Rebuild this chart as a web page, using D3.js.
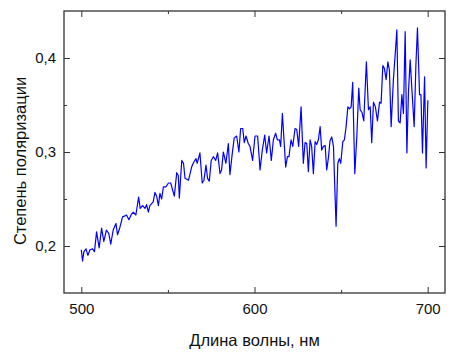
<!DOCTYPE html>
<html>
<head>
<meta charset="utf-8">
<script src="https://cdn.jsdelivr.net/npm/d3@7"></script>
<style>
  body { margin: 0; background: #fff; }
  svg text { font-family: "Liberation Sans", Arial, sans-serif; fill: #111; }
</style>
</head>
<body>
<div id="chart"></div>
<script>
// длина волны, нм
const wavelength = [
  500, 500.7, 501.5, 502.7, 503.8, 505.0, 506.5, 507.6, 508.8, 510.3,
  511.7, 513.0, 514.5, 515.9, 517.0, 518.4, 520.0, 520.9, 522.3, 523.8,
  525.2, 526.1, 527.5, 528.7, 530.0, 531.5, 533.1, 534.0, 535.4, 536.8,
  537.7, 538.7, 539.6, 541.5, 542.5, 543.5, 544.5, 545.4, 546.4, 547.4,
  548.9, 550.3, 551.6, 553.7, 555.1, 556.0, 556.6, 558.0, 559.0, 559.9,
  561.9, 563.7, 564.6, 566.2, 566.9, 568.5, 569.8, 570.8, 572.0, 572.9,
  573.9, 575.0, 576.2, 577.6, 578.7, 580.1, 581.0, 582.0, 583.5, 584.9,
  585.8, 587.2, 588.3, 589.7, 591.0, 592.0, 593.2, 594.1, 595.1, 596.4,
  597.4, 598.9, 600.3, 601.8, 603.2, 604.5, 605.9, 607.0, 608.4, 609.7,
  610.9, 612.2, 613.2, 614.4, 615.1, 616.1, 617.1, 618.0, 619.0, 619.9,
  621.1, 622.1, 623.4, 624.4, 625.5, 626.9, 628.2, 629.2, 630.2, 631.1,
  632.1, 633.0, 634.0, 635.0, 635.9, 636.9, 637.9, 638.8, 639.8, 640.8,
  641.7, 642.7, 643.6, 644.6, 645.6, 647.1, 648.1, 649.0, 649.8, 651.0,
  651.9, 652.9, 653.9, 654.8, 655.8, 656.7, 657.9, 659.1, 660.2, 661.0,
  662.1, 663.1, 664.6, 665.8, 666.8, 667.7, 668.7, 669.8, 671.0, 672.2,
  673.1, 674.1, 675.0, 676.0, 677.0, 677.9, 678.9, 680.2, 681.2, 682.2,
  683.1, 684.1, 685.1, 686.0, 687.0, 688.0, 688.9, 689.9, 690.8, 692.2,
  693.2, 694.1, 695.3, 696.1, 697.0, 698.2, 699.1, 700.1
];

// степень поляризации
const polarization = [
  0.196, 0.184, 0.194, 0.197, 0.190, 0.196, 0.197, 0.194, 0.215, 0.198,
  0.219, 0.205, 0.217, 0.213, 0.202, 0.217, 0.224, 0.212, 0.220, 0.231,
  0.232, 0.233, 0.228, 0.233, 0.236, 0.233, 0.252, 0.240, 0.243, 0.240,
  0.244, 0.236, 0.243, 0.247, 0.257, 0.253, 0.243, 0.256, 0.250, 0.263,
  0.263, 0.267, 0.267, 0.253, 0.278, 0.275, 0.251, 0.291, 0.288, 0.272,
  0.270, 0.284, 0.288, 0.293, 0.288, 0.299, 0.267, 0.270, 0.286, 0.272,
  0.269, 0.291, 0.295, 0.291, 0.299, 0.277, 0.281, 0.300, 0.288, 0.309,
  0.276, 0.299, 0.315, 0.317, 0.300, 0.325, 0.325, 0.310, 0.317, 0.309,
  0.306, 0.291, 0.317, 0.317, 0.281, 0.302, 0.318, 0.299, 0.317, 0.291,
  0.313, 0.320, 0.313, 0.313, 0.306, 0.341, 0.311, 0.284, 0.295, 0.295,
  0.313, 0.306, 0.325, 0.324, 0.306, 0.348, 0.288, 0.310, 0.309, 0.279,
  0.313, 0.306, 0.277, 0.311, 0.308, 0.313, 0.327, 0.302, 0.306, 0.307,
  0.281, 0.294, 0.312, 0.316, 0.306, 0.221, 0.288, 0.293, 0.288, 0.311,
  0.313, 0.327, 0.348, 0.346, 0.348, 0.374, 0.277, 0.317, 0.368, 0.345,
  0.342, 0.333, 0.396, 0.345, 0.348, 0.310, 0.353, 0.348, 0.333, 0.353,
  0.352, 0.392, 0.389, 0.377, 0.396, 0.387, 0.327, 0.377, 0.403, 0.430,
  0.333, 0.331, 0.361, 0.341, 0.428, 0.299, 0.364, 0.398, 0.369, 0.327,
  0.393, 0.432, 0.361, 0.361, 0.299, 0.380, 0.283, 0.355
];

const xMajor = [500, 600, 700];
const xMinor = [550, 650];
const yMajor = [0.2, 0.3, 0.4];
const yMinor = [0.25, 0.35];

const W = 461, H = 353;
const frame = { left: 64, right: 445, top: 11, bottom: 293 };

const svg = d3.select("#chart")
    .append("svg")
    .attr("width", W)
    .attr("height", H);

const x = d3.scaleLinear()
    .domain([490, 710])
    .range([frame.left, frame.right]);

const y = d3.scaleLinear()
    .domain([0.15, 0.45])
    .range([frame.bottom, frame.top]);

const fmt = d => d3.format(".1f")(d).replace(".", ",");
const axisColor = "#333";

// оси снизу и слева с подписями
function styleAxis(g) {
    g.select(".domain").remove();
    g.selectAll("line").attr("stroke", axisColor).attr("stroke-width", 1);
}

svg.append("g")
    .attr("transform", `translate(0,${frame.bottom})`)
    .call(d3.axisBottom(x).tickValues(xMajor).tickSize(-6).tickPadding(10).tickFormat(d3.format("d")))
    .call(styleAxis)
    .selectAll("text")
    .attr("font-size", "15px")
    .attr("fill", "#111");

svg.append("g")
    .attr("transform", `translate(0,${frame.bottom})`)
    .call(d3.axisBottom(x).tickValues(xMinor).tickSize(-3).tickFormat(""))
    .call(styleAxis);

svg.append("g")
    .attr("transform", `translate(${frame.left},0)`)
    .call(d3.axisLeft(y).tickValues(yMajor).tickSize(-6).tickPadding(8).tickFormat(fmt))
    .call(styleAxis)
    .selectAll("text")
    .attr("font-size", "15px")
    .attr("fill", "#111");

svg.append("g")
    .attr("transform", `translate(${frame.left},0)`)
    .call(d3.axisLeft(y).tickValues(yMinor).tickSize(-3).tickFormat(""))
    .call(styleAxis);

// зеркальные засечки сверху и справа
svg.append("g")
    .attr("transform", `translate(0,${frame.top})`)
    .call(d3.axisTop(x).tickValues(xMajor).tickSize(-6).tickFormat(""))
    .call(styleAxis);

svg.append("g")
    .attr("transform", `translate(0,${frame.top})`)
    .call(d3.axisTop(x).tickValues(xMinor).tickSize(-3).tickFormat(""))
    .call(styleAxis);

svg.append("g")
    .attr("transform", `translate(${frame.right},0)`)
    .call(d3.axisRight(y).tickValues(yMajor).tickSize(-6).tickFormat(""))
    .call(styleAxis);

svg.append("g")
    .attr("transform", `translate(${frame.right},0)`)
    .call(d3.axisRight(y).tickValues(yMinor).tickSize(-3).tickFormat(""))
    .call(styleAxis);

// рамка
svg.append("rect")
    .attr("x", frame.left)
    .attr("y", frame.top)
    .attr("width", frame.right - frame.left)
    .attr("height", frame.bottom - frame.top)
    .attr("fill", "none")
    .attr("stroke", axisColor)
    .attr("stroke-width", 1.3);

// кривая
const data = wavelength.map((w, i) => [w, polarization[i]]);

const line = d3.line()
    .x(d => x(d[0]))
    .y(d => y(d[1]));

svg.append("path")
    .datum(data)
    .attr("fill", "none")
    .attr("stroke", "#0000ff")
    .attr("stroke-width", 1.2)
    .attr("stroke-linejoin", "round")
    .attr("d", line);

// подписи осей
svg.append("text")
    .attr("x", (frame.left + frame.right) / 2)
    .attr("y", 346)
    .attr("text-anchor", "middle")
    .attr("font-size", "16.5px")
    .text("Длина волны, нм");

svg.append("text")
    .attr("transform", `translate(26,161) rotate(-90)`)
    .attr("text-anchor", "middle")
    .attr("font-size", "16.5px")
    .text("Степень поляризации");
</script>
</body>
</html>
